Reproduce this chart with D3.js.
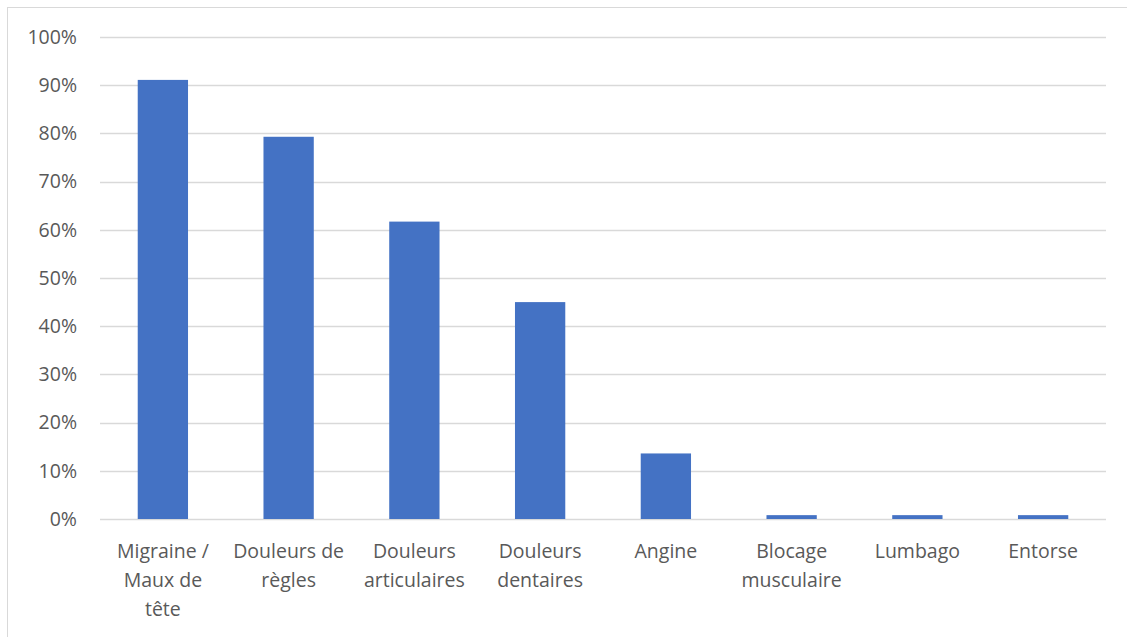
<!DOCTYPE html>
<html>
<head>
<meta charset="utf-8">
<script src="https://cdn.jsdelivr.net/npm/d3@7"></script>
<style>
  html, body { margin: 0; padding: 0; background: #fff; }
  svg { display: block; }
  text { font-family: "Open Sans", "DejaVu Sans", sans-serif; fill: #595959; }
</style>
</head>
<body>
<svg id="chart" width="1127" height="637"></svg>
<script>
// Share of respondents per type of pain
const categories = [
  "Migraine / Maux de tête",
  "Douleurs de règles",
  "Douleurs articulaires",
  "Douleurs dentaires",
  "Angine",
  "Blocage musculaire",
  "Lumbago",
  "Entorse"
];
// Axis label lines for each category
const categoryLines = [
  ["Migraine /", "Maux de", "tête"],
  ["Douleurs de", "règles"],
  ["Douleurs", "articulaires"],
  ["Douleurs", "dentaires"],
  ["Angine"],
  ["Blocage", "musculaire"],
  ["Lumbago"],
  ["Entorse"]
];
const values = [0.911, 0.793, 0.617, 0.450, 0.136, 0.008, 0.008, 0.008];
const yTicks = [0, 0.1, 0.2, 0.3, 0.4, 0.5, 0.6, 0.7, 0.8, 0.9, 1.0];

const svg = d3.select("#chart");
const W = 1127, H = 637;
const margin = { left: 100, right: 21, top: 37, bottom: 118 };
const fontSize = 19.5;

// Outer chart frame
svg.append("rect")
  .attr("x", 7.5).attr("y", 7.5)
  .attr("width", W + 10).attr("height", H + 10)
  .attr("fill", "none").attr("stroke", "#d9d9d9").attr("stroke-width", 1);

const x = d3.scaleBand()
  .domain(categories)
  .range([margin.left, W - margin.right])
  .paddingInner(0.6)
  .paddingOuter(0.3);

const y = d3.scaleLinear()
  .domain([0, 1])
  .range([H - margin.bottom, margin.top]);

// Horizontal gridlines
svg.append("g")
  .selectAll("line")
  .data(yTicks)
  .join("line")
  .attr("x1", margin.left).attr("x2", W - margin.right)
  .attr("y1", d => Math.round(y(d)) + 0.5)
  .attr("y2", d => Math.round(y(d)) + 0.5)
  .attr("stroke", "#d9d9d9").attr("stroke-width", 1.3);

// Y axis labels
const yAxis = d3.axisLeft(y)
  .tickValues(yTicks)
  .tickFormat(d3.format(".0%"))
  .tickSize(0)
  .tickPadding(0);
const yg = svg.append("g")
  .attr("transform", `translate(${margin.left - 23},0)`)
  .call(yAxis);
yg.select(".domain").remove();
yg.selectAll("text")
  .attr("font-size", fontSize)
  .attr("font-family", "'Open Sans', sans-serif")
  .attr("fill", "#595959");

// Bars
svg.append("g")
  .selectAll("rect")
  .data(values)
  .join("rect")
  .attr("x", (d, i) => x(categories[i]))
  .attr("width", x.bandwidth())
  .attr("y", d => y(d))
  .attr("height", d => y(0) - y(d))
  .attr("fill", "#4472c4");

// X axis category labels
const xg = svg.append("g");
categories.forEach((c, i) => {
  const t = xg.append("text")
    .attr("x", x(c) + x.bandwidth() / 2)
    .attr("y", y(0) + 39)
    .attr("text-anchor", "middle")
    .attr("font-size", fontSize);
  categoryLines[i].forEach((line, j) => {
    t.append("tspan")
      .attr("x", x(c) + x.bandwidth() / 2)
      .attr("dy", j === 0 ? 0 : 29)
      .text(line);
  });
});
</script>
</body>
</html>
